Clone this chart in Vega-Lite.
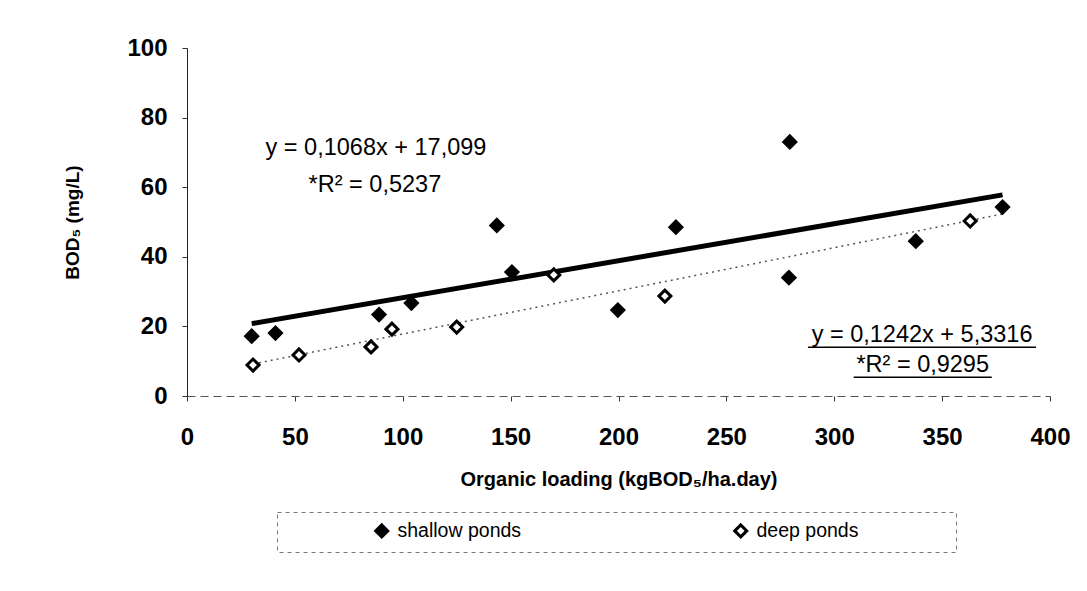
{
  "$schema": "https://vega.github.io/schema/vega-lite/v6.json",
  "autosize": "none",
  "width": 863,
  "height": 348,
  "padding": {"left": 187, "top": 48, "right": 37, "bottom": 195},
  "background": "white",
  "config": {
    "view": {"stroke": null},
    "font": "Liberation Sans",
    "axis": {"grid": false, "labelFont": "Liberation Sans", "titleFont": "Liberation Sans", "labelFlush": false},
    "legend": {"strokeDash": [4, 4]}
  },
  "datasets": {
    "points": [
      {"series": "shallow ponds", "loading": 30, "bod": 17.2},
      {"series": "shallow ponds", "loading": 41, "bod": 18.1},
      {"series": "shallow ponds", "loading": 89, "bod": 23.4},
      {"series": "shallow ponds", "loading": 104, "bod": 26.7},
      {"series": "shallow ponds", "loading": 143.6, "bod": 49},
      {"series": "shallow ponds", "loading": 150.6, "bod": 35.6},
      {"series": "shallow ponds", "loading": 199.7, "bod": 24.7},
      {"series": "shallow ponds", "loading": 226.6, "bod": 48.5},
      {"series": "shallow ponds", "loading": 279.4, "bod": 73},
      {"series": "shallow ponds", "loading": 279, "bod": 34},
      {"series": "shallow ponds", "loading": 337.8, "bod": 44.5},
      {"series": "shallow ponds", "loading": 378, "bod": 54.3},
      {"series": "deep ponds", "loading": 30.6, "bod": 8.9},
      {"series": "deep ponds", "loading": 51.9, "bod": 11.8},
      {"series": "deep ponds", "loading": 85.3, "bod": 14.1},
      {"series": "deep ponds", "loading": 95, "bod": 19.2},
      {"series": "deep ponds", "loading": 125, "bod": 19.8},
      {"series": "deep ponds", "loading": 170, "bod": 34.8},
      {"series": "deep ponds", "loading": 221.5, "bod": 28.7},
      {"series": "deep ponds", "loading": 363, "bod": 50.3}
    ],
    "trend": [
      {"series": "shallow ponds", "loading": 30, "bod": 20.8},
      {"series": "shallow ponds", "loading": 378, "bod": 57.8},
      {"series": "deep ponds", "loading": 30.6, "bod": 9.2},
      {"series": "deep ponds", "loading": 378, "bod": 52.3}
    ],
    "labels": [
      {"text": "y = 0,1068x + 17,099", "loading": 87.6, "bod": 71.3},
      {"text": "*R² = 0,5237", "loading": 87.1, "bod": 60.6},
      {"text": "y = 0,1242x + 5,3316", "loading": 340.7, "bod": 17.5},
      {"text": "*R² = 0,9295", "loading": 341, "bod": 8.9}
    ],
    "underlines": [
      {"start": 287.8, "end": 393.5, "bod": 14.0},
      {"start": 309, "end": 373, "bod": 5.4}
    ]
  },
  "layer": [
    {
      "data": {"name": "trend"},
      "transform": [{"filter": "datum.series == 'deep ponds'"}],
      "mark": {"type": "line", "color": "#555555", "strokeWidth": 1.5, "strokeDash": [2, 4]},
      "encoding": {
        "x": {"field": "loading", "type": "quantitative", "scale": {"domain": [0, 400]},
          "axis": {"values": [0, 50, 100, 150, 200, 250, 300, 350, 400], "title": "Organic loading (kgBOD₅/ha.day)",
            "labelFontSize": 24, "labelFontWeight": "bold", "labelColor": "black", "labelPadding": 24,
            "tickSize": 5, "tickColor": "#333", "domainColor": "#555", "domainDash": [8, 5],
            "titleFontSize": 20, "titleFontWeight": "bold", "titleColor": "black", "titleY": 83, "titleBaseline": "middle"}},
        "y": {"field": "bod", "type": "quantitative", "scale": {"domain": [0, 100]},
          "axis": {"values": [0, 20, 40, 60, 80, 100], "title": "BOD₅ (mg/L)",
            "labelFontSize": 24, "labelFontWeight": "bold", "labelColor": "black", "labelPadding": 15,
            "tickSize": 5, "tickColor": "#333", "domainColor": "#222",
            "titleFontSize": 19, "titleFontWeight": "bold", "titleColor": "black", "titleX": -115, "titleY": 174, "titleBaseline": "middle", "titleAnchor": "middle"}}
      }
    },
    {
      "data": {"name": "trend"},
      "transform": [{"filter": "datum.series == 'shallow ponds'"}],
      "mark": {"type": "line", "color": "black", "strokeWidth": 5},
      "encoding": {
        "x": {"field": "loading", "type": "quantitative"},
        "y": {"field": "bod", "type": "quantitative"}
      }
    },
    {
      "data": {"name": "points"},
      "mark": {"type": "point", "shape": "diamond", "size": 144, "stroke": "black", "strokeWidth": 3, "opacity": 1, "filled": false},
      "encoding": {
        "x": {"field": "loading", "type": "quantitative"},
        "y": {"field": "bod", "type": "quantitative"},
        "fill": {"field": "series", "type": "nominal",
          "scale": {"domain": ["shallow ponds", "deep ponds"], "range": ["black", "white"]},
          "legend": {"title": ".", "titleOrient": "right", "titleColor": "white", "titleFontSize": 2, "titlePadding": 88,
            "orient": "none", "legendX": 90, "legendY": 464, "direction": "horizontal",
            "symbolType": "diamond", "symbolSize": 144, "symbolStrokeColor": "black", "symbolStrokeWidth": 3,
            "symbolOffset": 86, "labelOffset": 6, "columnPadding": 123, "labelLimit": 400,
            "labelFontSize": 19.5, "labelColor": "black", "labelFont": "Liberation Sans",
            "padding": 9, "strokeColor": "#777", "fillColor": "white"}}
      }
    },
    {
      "data": {"name": "labels"},
      "mark": {"type": "text", "fontSize": 23.5, "font": "Liberation Sans", "color": "black", "align": "center", "baseline": "middle"},
      "encoding": {
        "x": {"field": "loading", "type": "quantitative"},
        "y": {"field": "bod", "type": "quantitative"},
        "text": {"field": "text"}
      }
    },
    {
      "data": {"name": "underlines"},
      "mark": {"type": "rule", "color": "black", "strokeWidth": 1.5},
      "encoding": {
        "x": {"field": "start", "type": "quantitative"},
        "x2": {"field": "end"},
        "y": {"field": "bod", "type": "quantitative"}
      }
    }
  ]
}
